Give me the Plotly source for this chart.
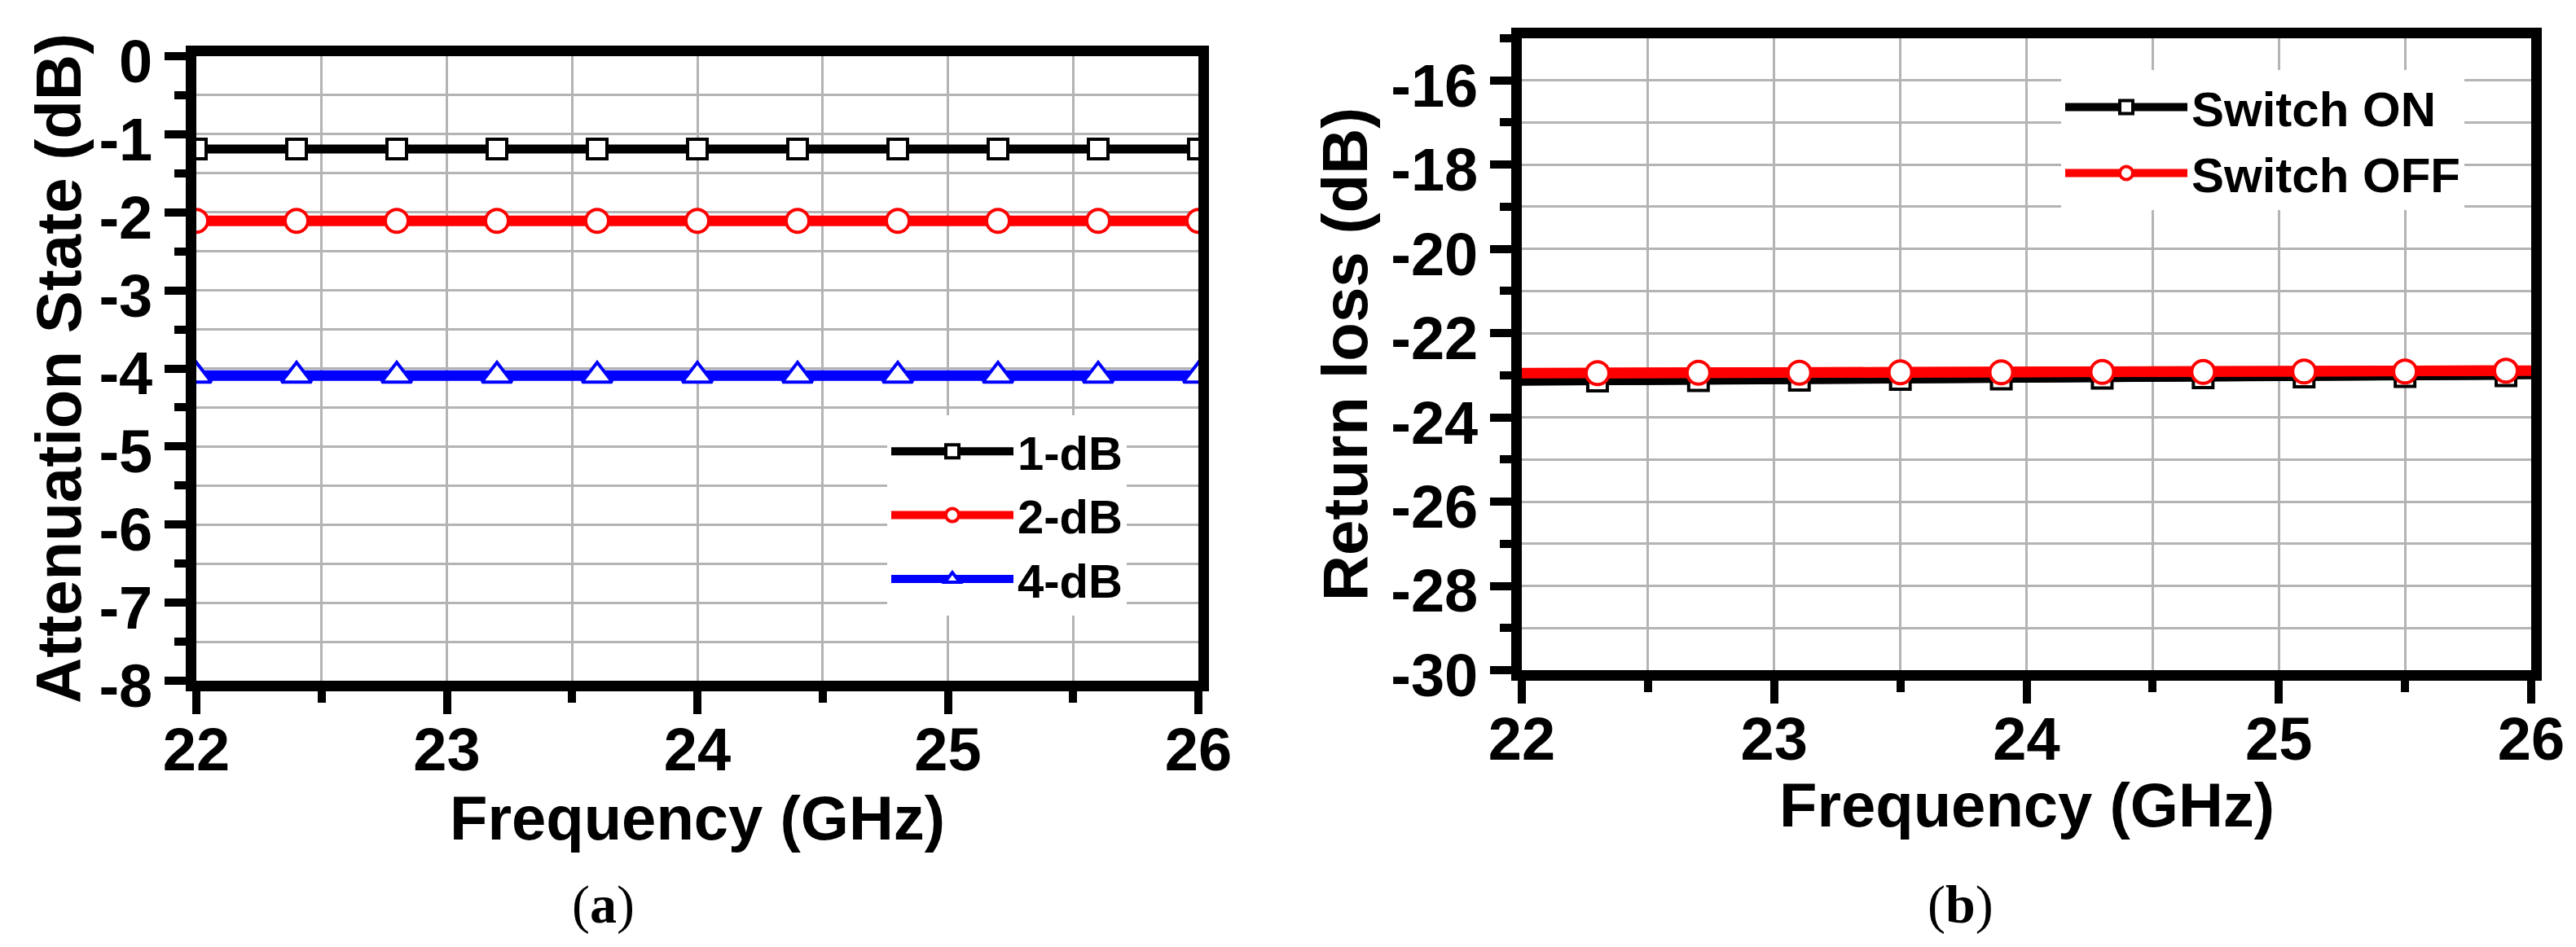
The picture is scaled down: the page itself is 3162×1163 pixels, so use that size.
import plotly.graph_objects as go

# ---------------- data ----------------
freq_a = [22.0, 22.4, 22.8, 23.2, 23.6, 24.0, 24.4, 24.8, 25.2, 25.6, 26.0]
att_1db = [-1.19, -1.19, -1.19, -1.19, -1.19, -1.19, -1.19, -1.19, -1.19, -1.19, -1.19]
att_2db = [-2.11, -2.11, -2.11, -2.11, -2.11, -2.11, -2.11, -2.11, -2.11, -2.11, -2.11]
att_4db = [-4.09, -4.09, -4.09, -4.09, -4.09, -4.09, -4.09, -4.09, -4.09, -4.09, -4.09]

freq_b = [22.0, 22.3, 22.7, 23.1, 23.5, 23.9, 24.3, 24.7, 25.1, 25.5, 25.9, 26.0]
rl_on = [-23.15, -23.14, -23.13, -23.12, -23.10, -23.09, -23.07, -23.06, -23.04, -23.03, -23.01, -23.00]
rl_off = [-22.95, -22.95, -22.94, -22.94, -22.93, -22.93, -22.92, -22.92, -22.91, -22.91, -22.89, -22.89]

x_ticks = [22, 23, 24, 25, 26]
x_ticklabels = ["22", "23", "24", "25", "26"]
ya_ticks = [0, -1, -2, -3, -4, -5, -6, -7, -8]
ya_ticklabels = ["0", "-1", "-2", "-3", "-4", "-5", "-6", "-7", "-8"]
yb_ticks = [-16, -18, -20, -22, -24, -26, -28, -30]
yb_ticklabels = ["-16", "-18", "-20", "-22", "-24", "-26", "-28", "-30"]

FONT = "Liberation Sans, Arial, sans-serif"
SERIF = "Liberation Serif, Times New Roman, serif"
GRID = "#b4b4b4"

fig = go.Figure()

# ---------------- panel (a) ----------------
fig.add_trace(go.Scatter(
    x=freq_a, y=att_1db, name="1-dB", mode="lines+markers",
    line=dict(color="black", width=11),
    marker=dict(symbol="square", size=24, color="white", line=dict(color="black", width=4)),
    xaxis="x", yaxis="y", legend="legend"))
fig.add_trace(go.Scatter(
    x=freq_a, y=att_2db, name="2-dB", mode="lines+markers",
    line=dict(color="#ff0000", width=13),
    marker=dict(symbol="circle", size=28, color="white", line=dict(color="#ff0000", width=4)),
    xaxis="x", yaxis="y", legend="legend"))
fig.add_trace(go.Scatter(
    x=freq_a, y=att_4db, name="4-dB", mode="lines+markers",
    line=dict(color="#0000ff", width=13),
    marker=dict(symbol="triangle-up", size=32, color="white", line=dict(color="#0000ff", width=4)),
    xaxis="x", yaxis="y", legend="legend"))

# ---------------- panel (b) ----------------
fig.add_trace(go.Scatter(
    x=freq_b, y=rl_on, mode="lines", showlegend=False,
    line=dict(color="black", width=10), xaxis="x2", yaxis="y2"))
fig.add_trace(go.Scatter(
    x=freq_b[1:-1], y=rl_on[1:-1], name="Switch ON", mode="lines+markers",
    line=dict(color="black", width=10),
    marker=dict(symbol="square", size=24, color="white", line=dict(color="black", width=4)),
    xaxis="x2", yaxis="y2", legend="legend2"))
fig.add_trace(go.Scatter(
    x=freq_b, y=rl_off, mode="lines", showlegend=False,
    line=dict(color="#ff0000", width=13), xaxis="x2", yaxis="y2"))
fig.add_trace(go.Scatter(
    x=freq_b[1:-1], y=rl_off[1:-1], name="Switch OFF", mode="lines+markers",
    line=dict(color="#ff0000", width=13),
    marker=dict(symbol="circle", size=28, color="white", line=dict(color="#ff0000", width=4)),
    xaxis="x2", yaxis="y2", legend="legend2"))


def xaxis_style(domain, anchor):
    return dict(
        domain=domain, anchor=anchor, range=[22, 26], automargin=False,
        tickmode="array", tickvals=x_ticks, ticktext=x_ticklabels,
        ticks="outside", ticklen=28, tickwidth=10, tickcolor="black",
        ticklabelstandoff=-20,
        tickfont=dict(family=FONT, size=74, color="black", weight="bold"),
        showline=True, linewidth=13, linecolor="black", mirror=True,
        showgrid=True, gridcolor=GRID, gridwidth=2.5, zeroline=False,
        minor=dict(tickmode="linear", tick0=22, dtick=0.5, ticks="outside", ticklen=14,
                   tickwidth=10, tickcolor="black", showgrid=True, gridcolor=GRID, gridwidth=2.5),
    )


def yaxis_style(domain, anchor, rng, tv, tt, minor_tick0, minor_dtick, title, standoff):
    return dict(
        domain=domain, anchor=anchor, range=rng, automargin=False,
        tickmode="array", tickvals=tv, ticktext=tt,
        ticks="outside", ticklen=26, tickwidth=10, tickcolor="black",
        ticklabelshift=6,
        tickfont=dict(family=FONT, size=74, color="black", weight="bold"),
        showline=True, linewidth=13, linecolor="black", mirror=True,
        showgrid=True, gridcolor=GRID, gridwidth=2.5, zeroline=False,
        minor=dict(tickmode="linear", tick0=minor_tick0, dtick=minor_dtick, ticks="outside",
                   ticklen=14, tickwidth=10, tickcolor="black", showgrid=True,
                   gridcolor=GRID, gridwidth=2.5),
        title=dict(text=title, standoff=standoff,
                   font=dict(family=FONT, size=78, color="black", weight="bold")),
    )


W, H = 3162, 1163
title_font = dict(family=FONT, size=76, color="black", weight="bold")
fig.update_layout(
    width=W, height=H,
    margin=dict(l=0, r=0, t=0, b=0, autoexpand=False),
    paper_bgcolor="white", plot_bgcolor="white",
    xaxis=xaxis_style([233 / W, 1463 / W], "y"),
    yaxis=yaxis_style([1 - 828 / H, 1 - 61 / H], "x", [-8, 0], ya_ticks, ya_ticklabels,
                      -8, 0.5, "Attenuation State (dB)", 2),
    xaxis2=xaxis_style([1860 / W, 3099 / W], "y2"),
    yaxis2=yaxis_style([1 - 815 / H, 1 - 39 / H], "x2", [-30, -15], yb_ticks, yb_ticklabels,
                       -30, 1, "Return loss (dB)", 8),
    legend=dict(x=1081 / W, y=1 - 502 / H, xanchor="left", yanchor="top",
                bgcolor="white", borderwidth=0, itemwidth=150, tracegroupgap=0,
                font=dict(family=FONT, size=58, color="black", weight="bold")),
    legend2=dict(x=2522 / W, y=1 - 78 / H, xanchor="left", yanchor="top",
                 bgcolor="white", borderwidth=0, itemwidth=150, tracegroupgap=0,
                 font=dict(family=FONT, size=60, color="black", weight="bold")),
    annotations=[
        dict(text="Frequency (GHz)", x=848 / W, y=1 - 996 / H, xref="paper", yref="paper",
             xanchor="center", yanchor="middle", showarrow=False, font=title_font),
        dict(text="Frequency (GHz)", x=2480 / W, y=1 - 980 / H, xref="paper", yref="paper",
             xanchor="center", yanchor="middle", showarrow=False, font=title_font),
        dict(text="(<b>a</b>)", x=732 / W, y=1 - 1103 / H, xref="paper", yref="paper",
             xanchor="center", yanchor="middle",
             showarrow=False, font=dict(family=SERIF, size=66, color="black")),
        dict(text="(<b>b</b>)", x=2398 / W, y=1 - 1103 / H, xref="paper", yref="paper",
             xanchor="center", yanchor="middle",
             showarrow=False, font=dict(family=SERIF, size=66, color="black")),
    ],
)

fig.write_html("out.html")
